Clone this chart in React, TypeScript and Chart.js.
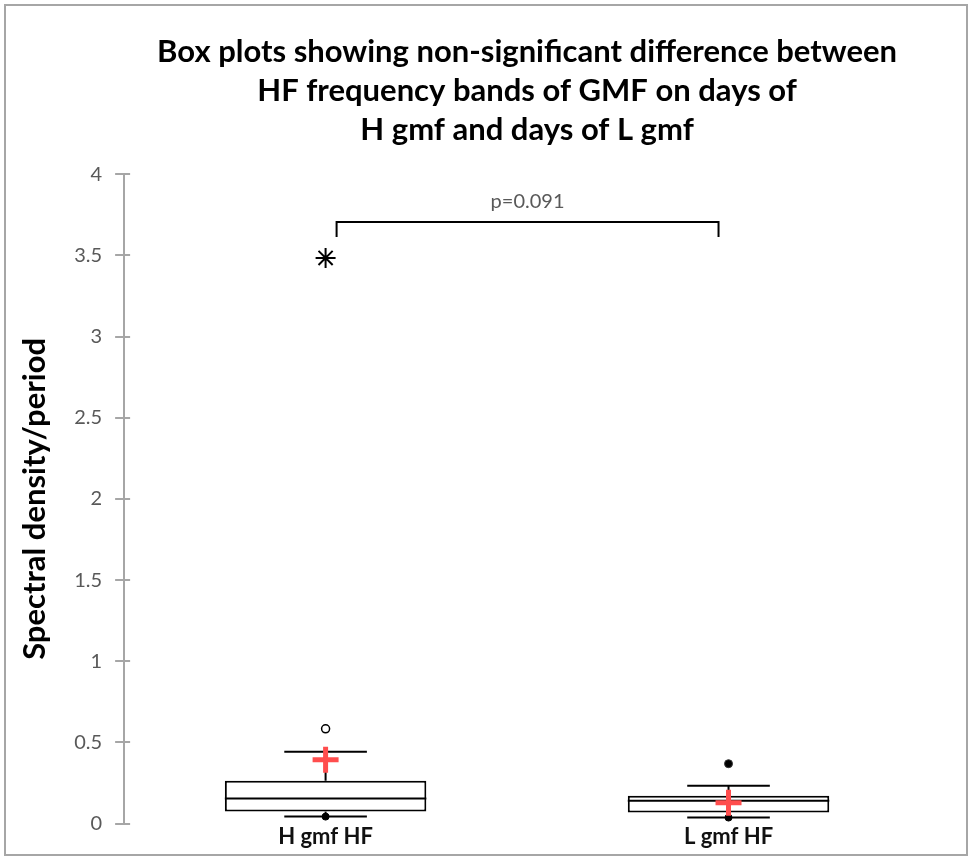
import React, { useEffect, useRef } from 'react';
import { Chart, registerables } from 'chart.js';

Chart.register(...registerables);

const categories = ['H gmf HF', 'L gmf HF'];
const q1 = [0.074, 0.068];
const median = [0.154, 0.141];
const q3 = [0.264, 0.172];
const whiskerLow = [0.043, 0.037];
const whiskerHigh = [0.442, 0.233];
const means = [0.393, 0.129];
const minimums = [0.043, 0.037];
const outliers = [0.584, null];
const maximums = [null, 0.369];
const extremes = [3.484, null];
const yTicks = [0, 0.5, 1, 1.5, 2, 2.5, 3, 3.5, 4];
const pText = 'p=0.091';
const bracketTop = 3.705;
const bracketBottom = 3.613;
const titleLines = [
  'Box plots showing non-significant difference between',
  'HF frequency bands of GMF on days of',
  'H gmf and days of L gmf',
];
const yTitle = 'Spectral density/period';

const FONT = 'Lato';

const boxPlugin = {
  id: 'boxExtras',
  afterDatasetDraw(chart: any, args: any) {
    if (args.index !== 0) return;
    const { ctx } = chart;
    const x = chart.scales.x;
    const y = chart.scales.y;
    const meta = chart.getDatasetMeta(0);
    ctx.save();
    ctx.strokeStyle = '#000';
    ctx.lineWidth = 2;
    categories.forEach((_, i) => {
      const bar = meta.data[i];
      const cx = x.getPixelForValue(i);
      const half = bar.width / 2;
      const capHalf = half * 0.41;
      const line = (x1: number, y1: number, x2: number, y2: number) => {
        ctx.beginPath();
        ctx.moveTo(x1, y1);
        ctx.lineTo(x2, y2);
        ctx.stroke();
      };
      line(cx - half, y.getPixelForValue(median[i]), cx + half, y.getPixelForValue(median[i]));
      line(cx, y.getPixelForValue(q3[i]), cx, y.getPixelForValue(whiskerHigh[i]));
      line(cx, y.getPixelForValue(q1[i]), cx, y.getPixelForValue(whiskerLow[i]));
      line(cx - capHalf, y.getPixelForValue(whiskerHigh[i]), cx + capHalf, y.getPixelForValue(whiskerHigh[i]));
      line(cx - capHalf, y.getPixelForValue(whiskerLow[i]), cx + capHalf, y.getPixelForValue(whiskerLow[i]));
    });
    ctx.restore();
  },
  afterDraw(chart: any) {
    const { ctx, chartArea } = chart;
    const x = chart.scales.x;
    const y = chart.scales.y;
    ctx.save();
    ctx.strokeStyle = '#a6a6a6';
    ctx.lineWidth = 2;
    yTicks.forEach((t) => {
      const py = Math.round(y.getPixelForValue(t));
      ctx.beginPath();
      ctx.moveTo(chartArea.left, py);
      ctx.lineTo(chartArea.left + 6, py);
      ctx.stroke();
    });
    const x1 = x.getPixelForValue(0) + 11;
    const x2 = x.getPixelForValue(1) - 10;
    const yt = y.getPixelForValue(bracketTop);
    const yb = y.getPixelForValue(bracketBottom);
    ctx.strokeStyle = '#000';
    ctx.lineWidth = 2;
    ctx.beginPath();
    ctx.moveTo(x1, yb);
    ctx.lineTo(x1, yt);
    ctx.lineTo(x2, yt);
    ctx.lineTo(x2, yb);
    ctx.stroke();
    ctx.fillStyle = '#595959';
    ctx.font = `20px ${FONT}`;
    ctx.textAlign = 'center';
    ctx.textBaseline = 'middle';
    ctx.fillText(pText, (x1 + x2) / 2, yt - 21);
    ctx.strokeStyle = '#a6a6a6';
    ctx.lineWidth = 2;
    ctx.strokeRect(5, 5, chart.width - 8, chart.height - 6);
    ctx.restore();
  },
};

export default function App() {
  const ref = useRef<HTMLCanvasElement>(null);
  useEffect(() => {
    if (!ref.current) return;
    const chart = new Chart(ref.current, {
      type: 'bar',
      data: {
        labels: categories,
        datasets: [
          {
            type: 'bar',
            data: categories.map((_, i) => [q1[i], q3[i]]) as any,
            backgroundColor: '#ffffff',
            borderColor: '#000000',
            borderWidth: 2,
            borderSkipped: false,
            barPercentage: 0.5,
            categoryPercentage: 1,
            order: 10,
          } as any,
          {
            type: 'line',
            data: means,
            showLine: false,
            pointStyle: 'cross',
            pointRadius: 13,
            pointBorderWidth: 5,
            pointBorderColor: '#ff4d4d',
            pointBackgroundColor: '#ff4d4d',
            order: 1,
          } as any,
          {
            type: 'line',
            data: minimums,
            showLine: false,
            pointStyle: 'circle',
            pointRadius: 3.5,
            pointBorderWidth: 1,
            pointBorderColor: '#000',
            pointBackgroundColor: '#000',
            order: 2,
          } as any,
          {
            type: 'line',
            data: maximums,
            showLine: false,
            pointStyle: 'circle',
            pointRadius: 4,
            pointBorderWidth: 1,
            pointBorderColor: '#333',
            pointBackgroundColor: '#000',
            order: 2,
          } as any,
          {
            type: 'line',
            data: outliers,
            showLine: false,
            pointStyle: 'circle',
            pointRadius: 4,
            pointBorderWidth: 1.5,
            pointBorderColor: '#000',
            pointBackgroundColor: '#fff',
            order: 2,
          } as any,
          {
            type: 'line',
            data: extremes,
            showLine: false,
            pointStyle: 'star',
            pointRadius: 10,
            pointBorderWidth: 2,
            pointBorderColor: '#000',
            pointBackgroundColor: '#000',
            order: 2,
          } as any,
        ],
      },
      options: {
        animation: false,
        responsive: true,
        maintainAspectRatio: false,
        layout: { padding: { left: 14, right: 40, top: 0, bottom: 6 } },
        plugins: {
          legend: { display: false },
          tooltip: { enabled: false },
          title: {
            display: true,
            fullSize: false,
            text: titleLines,
            color: '#000',
            font: { family: FONT, size: 31, weight: 'bold', lineHeight: 1.26 },
            padding: { top: 32, bottom: 25 },
          },
        },
        scales: {
          x: {
            grid: { display: false, drawTicks: false, tickLength: 0 },
            border: { display: false },
            ticks: { color: '#111', font: { family: FONT, size: 22, weight: 'bold' }, padding: 0 },
          },
          y: {
            min: 0,
            max: 4,
            afterBuildTicks: (axis: any) => {
              axis.ticks = yTicks.map((v) => ({ value: v }));
            },
            grid: { drawOnChartArea: false, drawTicks: true, tickLength: 9, color: '#a6a6a6', lineWidth: 2 },
            border: { display: true, color: '#a6a6a6', width: 2 },
            ticks: {
              color: '#595959',
              font: { family: FONT, size: 20 },
              padding: 13,
              callback: (v: any) => String(v),
            },
            title: {
              display: true,
              text: yTitle,
              color: '#000',
              font: { family: FONT, size: 31, weight: 'bold' },
              padding: { top: 2, bottom: 8 },
            },
          },
        },
      },
      plugins: [boxPlugin],
    });
    return () => chart.destroy();
  }, []);
  return (
    <div style={{ position: 'absolute', left: 0, top: 0, width: 970, height: 856, background: '#fff' }}>
      <canvas ref={ref} />
    </div>
  );
}
